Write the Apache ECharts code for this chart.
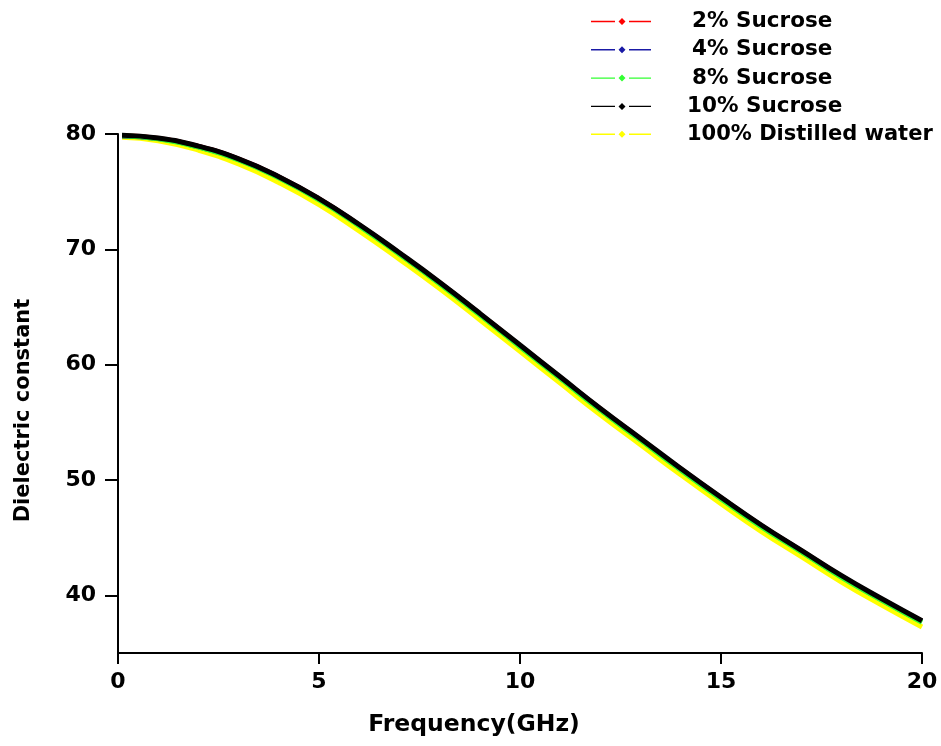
<!DOCTYPE html>
<html>
<head>
<meta charset="utf-8">
<script src="https://cdn.jsdelivr.net/npm/echarts@6/dist/echarts.min.js"></script>
<style>
  html, body { margin: 0; padding: 0; background: #fff; }
  #chart { width: 941px; height: 746px; }
</style>
</head>
<body>
<div id="chart"></div>
<script>
// Frequency points (GHz)
const freq = [0.1, 1, 2, 3, 4, 5, 6, 7, 8, 9, 10, 11, 12, 13, 14, 15, 16, 17, 18, 19, 20];

// Dielectric constant of each solution
const sucrose2 = [79.85, 79.62, 78.92, 77.82, 76.27, 74.37, 72.11, 69.66, 67.1, 64.4, 61.65, 58.9, 56.15, 53.55, 50.95, 48.45, 46.05, 43.85, 41.65, 39.65, 37.75];
const sucrose4 = [79.83, 79.6, 78.9, 77.8, 76.25, 74.35, 72.09, 69.64, 67.08, 64.38, 61.62, 58.87, 56.12, 53.52, 50.92, 48.42, 46.02, 43.82, 41.62, 39.62, 37.72];
const sucrose8 = [79.84, 79.58, 78.86, 77.76, 76.2, 74.3, 72.04, 69.58, 67.02, 64.32, 61.56, 58.81, 56.06, 53.46, 50.86, 48.36, 45.96, 43.76, 41.56, 39.56, 37.66];
const sucrose10 = [79.9, 79.65, 78.95, 77.85, 76.3, 74.4, 72.15, 69.7, 67.15, 64.45, 61.7, 58.95, 56.2, 53.6, 51.0, 48.5, 46.1, 43.9, 41.7, 39.7, 37.8];
const water = [79.72, 79.42, 78.6, 77.4, 75.8, 73.88, 71.6, 69.15, 66.6, 63.9, 61.15, 58.4, 55.65, 53.05, 50.45, 47.95, 45.55, 43.35, 41.15, 39.15, 37.25];

const names = ['2% Sucrose', '4% Sucrose', '8% Sucrose', '10% Sucrose', '100% Distilled water'];
const colors = ['#ff0000', '#1a1aa6', '#33ff33', '#000000', '#ffff00'];
const valueSets = [sucrose2, sucrose4, sucrose8, sucrose10, water];
const layerZ = [3, 3, 3, 4, 2];

// legend label indents and sizes
const legendIndent = [36, 36, 36, 31, 31];
const legendFontSize = [21.5, 21.5, 21.5, 21.5, 21];

const xTicks = [0, 5, 10, 15, 20];
const yTicks = [40, 50, 60, 70, 80];

const FONT = 'DejaVu Sans';

// Legend icon: short line, diamond marker, short line
const legendIcon = 'path://M0,2.8H24V4.2H0Z M31,0L34.5,3.5L31,7L27.5,3.5Z M38,2.8H60V4.2H38Z';

const series = names.map((name, i) => ({
  name: name,
  type: 'line',
  smooth: true,
  showSymbol: false,
  symbol: 'diamond',
  color: colors[i],
  z: layerZ[i],
  lineStyle: { width: 5, color: colors[i] },
  data: freq.map((f, k) => [f, valueSets[i][k]])
}));

const chart = echarts.init(document.getElementById('chart'), null, { renderer: 'canvas' });
chart.setOption({
  animation: false,
  backgroundColor: '#ffffff',
  textStyle: { fontFamily: FONT, fontWeight: 'bold', color: '#000' },
  grid: { left: 118, right: 19, top: 134, bottom: 93, containLabel: false },
  legend: {
    orient: 'vertical',
    left: 586,
    top: 5.5,
    itemWidth: 60,
    itemHeight: 7,
    itemGap: 6.3,
    icon: legendIcon,
    itemStyle: { borderWidth: 0 },
    textStyle: { fontFamily: FONT, fontWeight: 'bold', fontSize: 21.5, color: '#000', lineHeight: 20 },
    data: names.map((n, i) => ({
      name: n,
      textStyle: { fontSize: legendFontSize[i], lineHeight: 20, padding: [0, 0, 0, legendIndent[i]] }
    }))
  },
  xAxis: {
    type: 'value',
    min: 0,
    max: 20,
    interval: 5,
    name: 'Frequency(GHz)',
    nameLocation: 'middle',
    nameGap: 60,
    nameTextStyle: { fontFamily: FONT, fontWeight: 'bold', fontSize: 23.5, color: '#000', padding: [0, 92, 0, 0] },
    axisLine: { show: true, onZero: false, lineStyle: { color: '#000', width: 2 } },
    axisTick: { show: true, inside: false, length: 11, lineStyle: { color: '#000', width: 2 }, customValues: xTicks },
    axisLabel: { margin: 18, fontFamily: FONT, fontWeight: 'bold', fontSize: 22, color: '#000', customValues: xTicks },
    splitLine: { show: false }
  },
  yAxis: {
    type: 'value',
    min: 35,
    max: 80,
    name: 'Dielectric constant',
    nameLocation: 'middle',
    nameGap: 84,
    nameTextStyle: { fontFamily: FONT, fontWeight: 'bold', fontSize: 21, color: '#000', padding: [0, 34, 0, 0] },
    axisLine: { show: true, onZero: false, lineStyle: { color: '#000', width: 2 } },
    axisTick: { show: true, inside: false, length: 13, lineStyle: { color: '#000', width: 2 }, customValues: yTicks },
    axisLabel: { margin: 22, fontFamily: FONT, fontWeight: 'bold', fontSize: 22, color: '#000', customValues: yTicks },
    splitLine: { show: false }
  },
  series: series
});
</script>
</body>
</html>
